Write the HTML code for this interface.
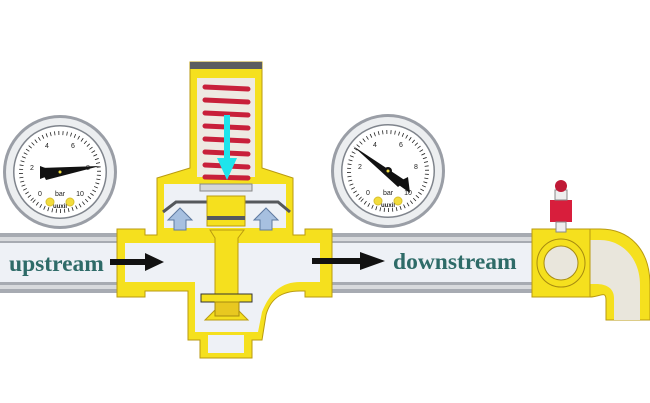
<!DOCTYPE html>
<html><head><meta charset="utf-8"><style>html,body{margin:0;padding:0;background:#fff}svg{display:block}</style></head>
<body>
<svg width="650" height="403" viewBox="0 0 650 403" xmlns="http://www.w3.org/2000/svg">
<defs>
<g id="gauge">
 <circle r="57" fill="#9a9ea6"/>
 <circle r="54" fill="#eceef0"/>
 <circle r="47" fill="#7f848c"/>
 <circle r="45.5" fill="#fff"/>
 <circle r="39" fill="none" stroke="#222" stroke-width="4" stroke-dasharray="0.8 3.3" transform="rotate(135)"/>
 <g font-family="Liberation Sans, sans-serif" font-size="7" fill="#222" text-anchor="middle">
  <text x="-20" y="24">0</text><text x="-28" y="-2">2</text><text x="-13" y="-24">4</text>
  <text x="13" y="-24">6</text><text x="28" y="-2">8</text><text x="20" y="24">10</text>
  <text x="0" y="24" font-size="7">bar</text><text x="0" y="36" font-size="6" font-weight="bold">uuxil</text>
 </g>
 <circle cx="-10" cy="30" r="4" fill="#f2dc3c" stroke="#d8c030"/>
 <circle cx="10" cy="30" r="4" fill="#f2dc3c" stroke="#d8c030"/>
</g>
</defs>

<g transform="translate(60,172)">
 <use href="#gauge"/>
 <path d="M-20 -4 L40 -6 L-14 8 Z" fill="#111"/>
 <path d="M-20 -6 L-12 -3 L-12 4 L-20 7 Z" fill="#111"/>
 <circle r="4" fill="#111"/><circle r="1.5" fill="#f2dc3c"/>
</g>
<g transform="translate(388,171)">
 <use href="#gauge"/>
 <path d="M-35 -25 L18 10 L10 16 Z" fill="#111"/>
 <path d="M8 12 L20 6 L22 22 Z" fill="#111"/>
 <circle r="4" fill="#111"/><circle r="1.5" fill="#f2dc3c"/>
</g>

<rect x="0" y="233" width="125" height="60" fill="#a7abb2"/>
<rect x="0" y="237" width="125" height="4" fill="#d8dadd"/>
<rect x="0" y="285" width="125" height="4" fill="#d8dadd"/>
<rect x="0" y="243" width="125" height="39" fill="#eef1f6"/>
<rect x="320" y="233" width="225" height="60" fill="#a7abb2"/>
<rect x="320" y="237" width="225" height="4" fill="#d8dadd"/>
<rect x="320" y="285" width="225" height="4" fill="#d8dadd"/>
<rect x="320" y="243" width="225" height="39" fill="#eef1f6"/>

<g fill="#f5e01e" stroke="#b99a10" stroke-width="1">
 <path d="M117 229 H145 V235 H157 V178 L190 168 V62 H262 V168 L293 178 V235 H305 V229 H332 V297 H305 V291 H300 C280 291 270 300 266 315 L262 340 H252 V358 H200 V340 H188 V291 H145 V297 H117 Z"/>
</g>
<g fill="#eef1f6">
 <path d="M125 243 H320 V282 H300 C282 282 270 292 262 312 L258 332 H195 V282 H125 Z"/>
 <rect x="208" y="335" width="36" height="18"/>
 <rect x="164" y="184" width="122" height="44"/>
</g>
<rect x="197" y="72" width="58" height="105" fill="#eeeae2"/>
<rect x="197" y="72" width="58" height="6" fill="#f5e01e"/>
<rect x="190" y="62" width="72" height="7" fill="#5b5d60"/>
<g stroke="#c8203a" stroke-width="5" stroke-linecap="round">
 <line x1="205" y1="87" x2="248" y2="89"/><line x1="205" y1="100" x2="248" y2="102"/>
 <line x1="205" y1="113" x2="248" y2="115"/><line x1="205" y1="126" x2="248" y2="128"/>
 <line x1="205" y1="139" x2="248" y2="141"/><line x1="205" y1="152" x2="248" y2="154"/>
 <line x1="205" y1="165" x2="248" y2="167"/><line x1="205" y1="177" x2="248" y2="178"/>
</g>
<rect x="200" y="184" width="52" height="7" fill="#d5d7da" stroke="#888"/>
<path d="M163 212 L176 202 H278 L290 212" fill="none" stroke="#55585c" stroke-width="3"/>
<rect x="207" y="196" width="38" height="30" fill="#f5e01e" stroke="#b99a10"/>
<rect x="207" y="216" width="38" height="4" fill="#55585c"/>
<path d="M210 230 H244 L238 238 V310 L248 320 H205 L215 310 V238 Z" fill="#f5e01e" stroke="#b99a10"/>
<rect x="201" y="294" width="51" height="8" fill="#f5e01e" stroke="#333"/>
<rect x="215" y="302" width="24" height="14" fill="#e8c820" stroke="#a68a10"/>
<g fill="#a7c0e0" stroke="#5e7aa0">
 <path d="M174 230 V220 H168 L180 208 L192 220 H186 V230 Z"/>
 <path d="M260 230 V220 H254 L266 208 L278 220 H272 V230 Z"/>
</g>
<path d="M224 115 H230 V158 H237 L227 180 L217 158 H224 Z" fill="#1fe4ec"/>

<path d="M545 229 H600 C630 229 650 250 650 285 V320 H606 V300 C606 290 600 297 590 297 H545 Z" fill="#f5e01e" stroke="#b99a10"/>
<path d="M545 240 H600 C622 240 640 258 640 285 V320 H614 V298 C614 288 606 284 596 284 H545 Z" fill="#e9e6dc"/>
<path d="M532 229 H590 V297 H532 Z" fill="#f5e01e" stroke="#b99a10"/>
<circle cx="561" cy="263" r="24" fill="#f5e01e" stroke="#a68a10"/>
<circle cx="561" cy="263" r="17" fill="#e9e6dc" stroke="#a68a10"/>
<rect x="550" y="200" width="22" height="22" fill="#d81e3c"/>
<rect x="555" y="190" width="12" height="10" fill="#eee" stroke="#888"/>
<circle cx="561" cy="186" r="6" fill="#c01a36"/>
<rect x="556" y="222" width="10" height="10" fill="#eee" stroke="#888"/>

<path d="M110 259 H145 V253 L164 262 L145 271 V265 H110 Z" fill="#111"/>
<path d="M312 258 H360 V252 L385 261 L360 270 V264 H312 Z" fill="#111"/>
<g font-family="Liberation Serif, serif" font-weight="bold" font-size="23.5" fill="#2e6b68">
 <text x="9" y="271">upstream</text>
 <text x="393" y="269">downstream</text>
</g>
</svg>
</body></html>
